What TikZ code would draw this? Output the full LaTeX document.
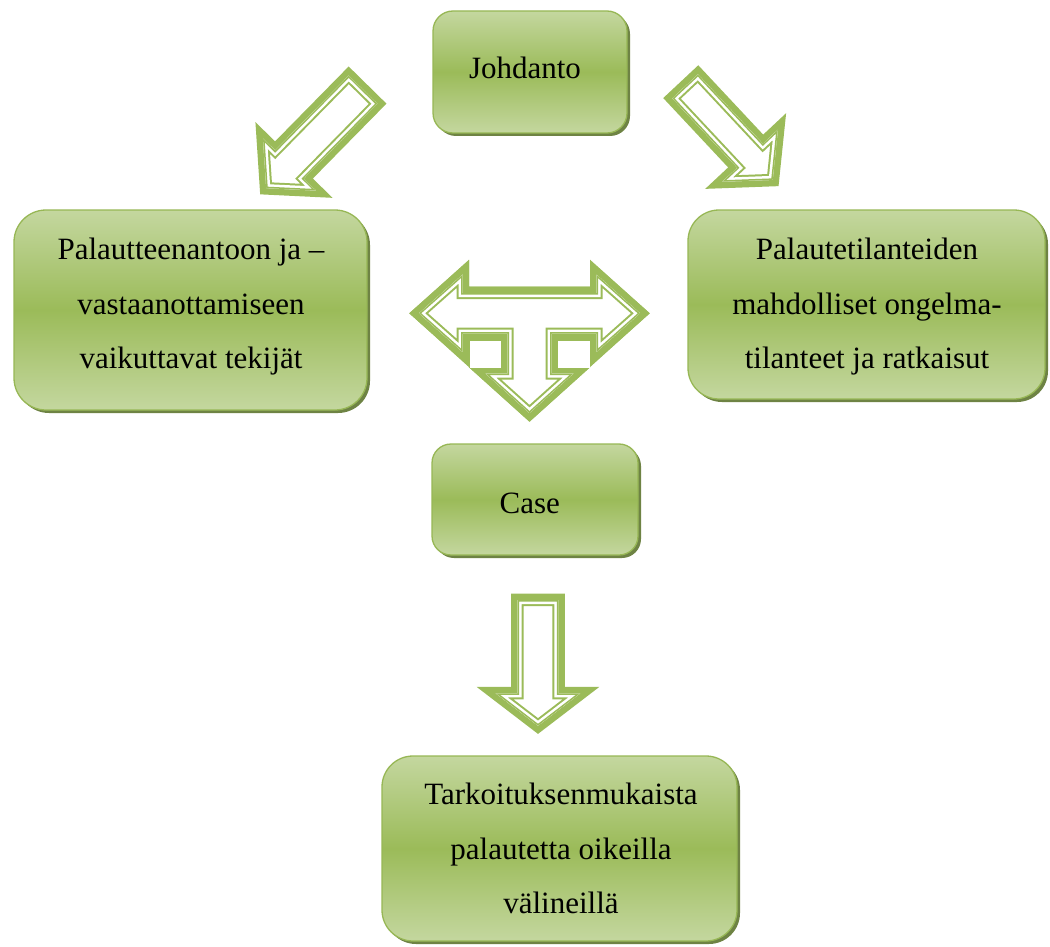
\documentclass[tikz,border=0pt]{standalone}
\usepackage{fontspec}
\setmainfont{Liberation Serif}
\usetikzlibrary{shadows}
\definecolor{agreen}{HTML}{9BBB59}
\definecolor{boxlight}{HTML}{C4D79F}
\definecolor{boxmid}{HTML}{9BBB59}
\definecolor{boxline}{HTML}{97B755}
\definecolor{shadowc}{HTML}{5E7530}
% hollow block shape: thick outer band, white gap, thin inner line
\newcommand\hollowshape[1]{%
  \draw[agreen, line width=13pt, line join=miter] #1;
  \begin{scope}
    \clip #1;
    \fill[white] #1;
    \draw[agreen, line width=12pt, line join=miter] #1;
    \draw[white, line width=8pt, line join=miter] #1;
    \draw[agreen, line width=3pt, line join=miter] #1;
  \end{scope}}
% block arrow: #1 tail coordinate, #2 angle, #3 half shaft, #4 length, #5 half head, #6 head length
\newcommand\blockarrow[6]{%
  \begin{scope}[shift={(#1)},rotate=#2]
    \def\ap{(0,-#3) -- ({#4-#6},-#3) -- ({#4-#6},-#5) -- (#4,0) -- ({#4-#6},#5) -- ({#4-#6},#3) -- (0,#3) -- cycle}
    \hollowshape{\ap}
  \end{scope}}
\tikzset{
  box/.style={draw=boxline, line width=1.3pt, top color=boxlight, bottom color=boxlight,
    middle color=boxmid, inner sep=0pt,
    drop shadow={shadow xshift=3pt, shadow yshift=-3pt, fill=shadowc, opacity=0.9}},
  lbl/.style={font=\fontsize{31}{54.5}\selectfont, align=center, text=black, inner sep=0pt}
}
\begin{document}
\begin{tikzpicture}[x=1pt,y=-1pt]
\useasboundingbox (0,0) rectangle (1050,947);

% boxes
\node[box, minimum width=194pt, minimum height=122pt, rounded corners=20pt] (intro) at (530,72) {};
\node[box, minimum width=353pt, minimum height=200pt, rounded corners=32pt] (factors) at (190.5,310) {};
\node[box, minimum width=357pt, minimum height=189pt, rounded corners=31pt] (problems) at (866.5,304.5) {};
\node[box, minimum width=206pt, minimum height=111pt, rounded corners=19pt] (case) at (535,499.5) {};
\node[box, minimum width=355pt, minimum height=185pt, rounded corners=31pt] (result) at (559.5,848.5) {};

% texts
\node[lbl, anchor=base] (intro-t) at (525,79) {Johdanto};
\node[lbl] (factors-t) at (191,306.8) {Palautteenantoon ja –\\vastaanottamiseen\\vaikuttavat tekijät};
\node[lbl] (problems-t) at (867,306.6) {Palautetilanteiden\\mahdolliset ongelma-\\tilanteet ja ratkaisut};
\node[lbl, anchor=base] (case-t) at (529.7,513.3) {Case};
\node[lbl] (result-t) at (561,848.5) {Tarkoituksenmukaista\\palautetta oikeilla\\välineillä};

% block arrows
\coordinate (arrL) at (363,89.7);
\coordinate (arrR) at (685.2,86.4);
\coordinate (arrD) at (538,600);
\blockarrow{arrL}{-134.5}{20}{138}{37}{33}
\blockarrow{arrR}{-46.9}{17.5}{128}{38}{33}
\blockarrow{arrD}{-90}{20.3}{125.7}{42.3}{32.4}

% left-right-down arrow
\coordinate (tee) at (529.5,313.3);
\fill[agreen] (409.3,313.3) -- (469,259.7) -- (469,286.7) -- (590,286.7) -- (590,259.7)
  -- (649.7,313.3) -- (529.5,421.7) -- cycle;
\def\tpath{(419,313.3) -- (462.5,274.7) -- (462.5,293.2) -- (596.5,293.2) -- (596.5,274.7)
  -- (640,313.3) -- (596.5,351.9) -- (596.5,333.5) -- (551.5,333.5) -- (551.5,373.5)
  -- (573.5,373.5) -- (529.5,413) -- (485.5,373.5) -- (507.5,373.5) -- (507.5,333.5)
  -- (462.5,333.5) -- (462.5,351.9) -- cycle}
\hollowshape{\tpath}
\fill[white] (469.5,341) rectangle (501,367.5);
\fill[white] (558,341) rectangle (589.5,367.5);
\end{tikzpicture}
\end{document}
